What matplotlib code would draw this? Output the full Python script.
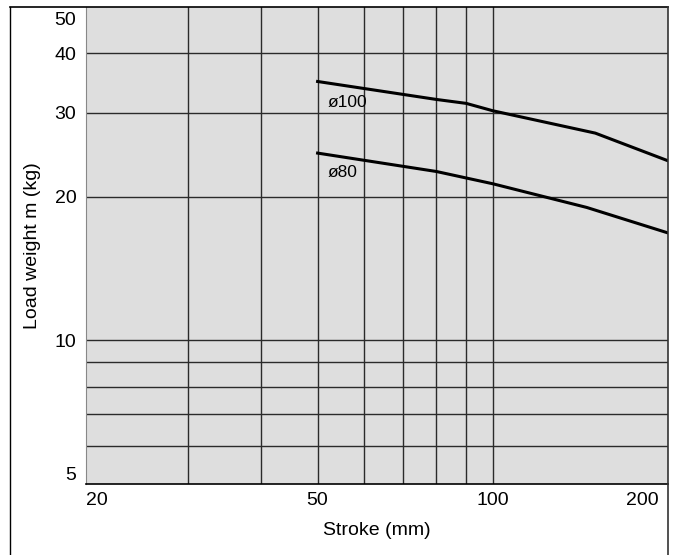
import numpy as np
import matplotlib.pyplot as plt
import matplotlib.transforms as mtransforms
from matplotlib.lines import Line2D
from matplotlib.ticker import FixedLocator, NullLocator

plt.rcParams['font.family'] = ['Liberation Sans', 'DejaVu Sans']

# load weight curves read per cylinder bore
stroke_100 = [50, 80, 90, 100, 150, 200]
load_100 = [34.9, 32.0, 31.4, 30.3, 27.2, 23.8]
stroke_80 = [50, 80, 100, 145, 200]
load_80 = [24.7, 22.6, 21.3, 19.0, 16.8]

x_grid = [30, 40, 50, 60, 70, 80, 90, 100]
y_grid = [6, 7, 8, 9, 10, 20, 30, 40]
x_ticks = [20, 50, 100, 200]
y_ticks = [5, 10, 20, 30, 40, 50]

fig = plt.figure(figsize=(6.77, 5.55), dpi=100)
W, H = 677, 555
ax = fig.add_axes([86 / W, 1 - 484 / H, 582 / W, 477 / H])
ax.set_facecolor('#dedede')
ax.set_xscale('log')
ax.set_yscale('log')
ax.set_xlim(20, 200)
ax.set_ylim(5, 50)

for xv in x_grid:
    ax.axvline(xv, color='#2a2a2a', lw=1.0, zorder=1)
for yv in y_grid:
    ax.axhline(yv, color='#2a2a2a', lw=1.0, zorder=1)

ax.plot(stroke_100, load_100, color='black', lw=2.2, zorder=3)
ax.plot(stroke_80, load_80, color='black', lw=2.2, zorder=3)
ax.text(52, 31.6, 'ø100', fontsize=12.5, va='center', ha='left')
ax.text(52, 22.5, 'ø80', fontsize=12.5, va='center', ha='left')

ax.xaxis.set_major_locator(FixedLocator(x_ticks))
ax.yaxis.set_major_locator(FixedLocator(y_ticks))
ax.xaxis.set_minor_locator(NullLocator())
ax.yaxis.set_minor_locator(NullLocator())
ax.set_xticklabels([str(v) for v in x_ticks])
ax.set_yticklabels([str(v) for v in y_ticks])
ax.tick_params(axis='both', length=0, labelsize=14)
ax.tick_params(axis='x', pad=6)
ax.tick_params(axis='y', pad=7)

# end labels sit inside the axis range
xl = ax.get_xticklabels()
xl[0].set_ha('left')
xl[-1].set_ha('right')
xl[-1].set_transform(xl[-1].get_transform() +
                     mtransforms.ScaledTranslation(-0.09, 0, fig.dpi_scale_trans))
yl = ax.get_yticklabels()
yl[0].set_va('bottom')
yl[-1].set_va('top')
yl[-1].set_transform(yl[-1].get_transform() +
                     mtransforms.ScaledTranslation(0, -0.05, fig.dpi_scale_trans))

for s in ['top', 'right']:
    ax.spines[s].set_visible(False)
ax.spines['left'].set_color('#888888')
ax.spines['bottom'].set_color('black')
ax.spines['bottom'].set_linewidth(1.2)

ax.set_xlabel('Stroke (mm)', fontsize=14, labelpad=9)
ax.set_ylabel('Load weight m (kg)', fontsize=14, labelpad=10)

# outer frame of the figure panel
fx0, fx1, fy = 10 / W, 668 / W, 1 - 7 / H
fig.add_artist(Line2D([fx0, fx0], [0, fy], color='black', lw=1.0))
fig.add_artist(Line2D([fx0, fx1], [fy, fy], color='black', lw=1.2))
fig.add_artist(Line2D([fx1, fx1], [0, fy], color='#333333', lw=1.2))

fig.savefig('out.png', dpi=100)
